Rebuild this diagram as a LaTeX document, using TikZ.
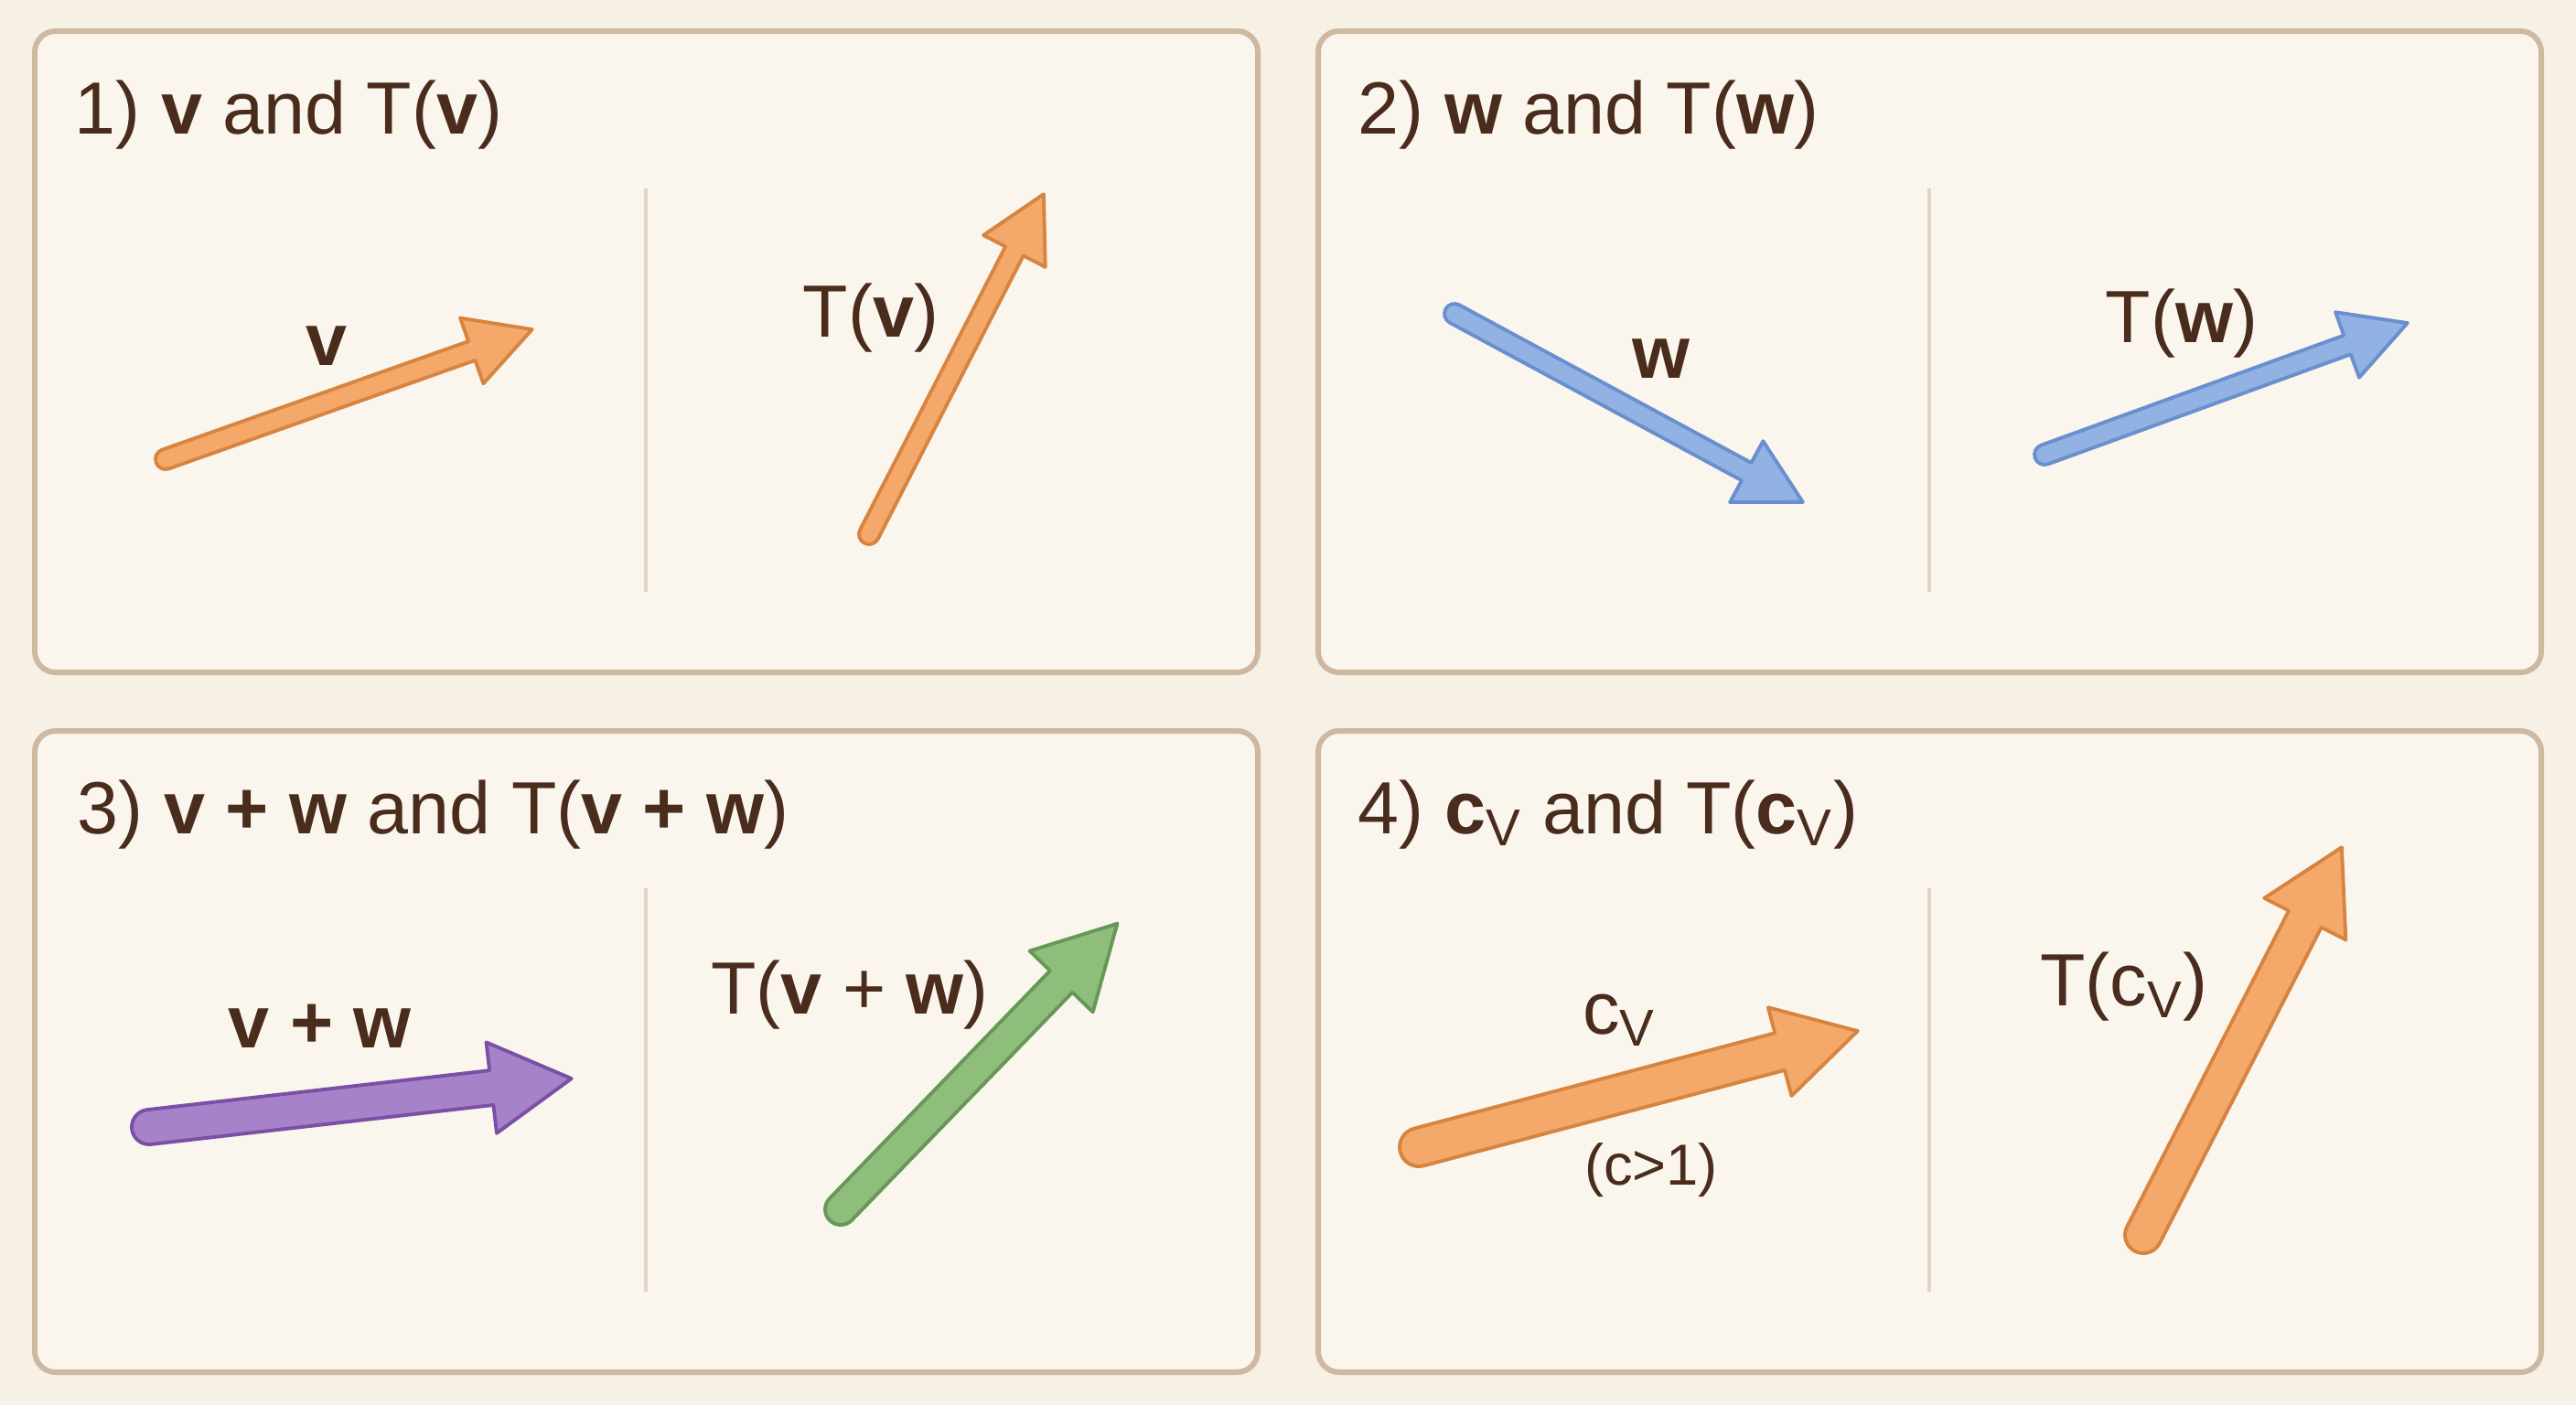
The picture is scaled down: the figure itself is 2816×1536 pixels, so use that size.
\documentclass[tikz,border=0pt]{standalone}
\usepackage{fontspec}
\setmainfont{Liberation Sans}
\usepackage{tikz}

\definecolor{pagebg}{HTML}{F6F0E5}
\definecolor{panelbg}{HTML}{FAF6EE}
\definecolor{frame}{HTML}{CDB8A2}
\definecolor{divline}{HTML}{E2D4C4}
\definecolor{ink}{HTML}{4A2C1C}
\definecolor{orangefill}{HTML}{F4A96A}
\definecolor{orangeedge}{HTML}{D6843F}
\definecolor{bluefill}{HTML}{92B2E4}
\definecolor{blueedge}{HTML}{6A8FCE}
\definecolor{purplefill}{HTML}{A682C8}
\definecolor{purpleedge}{HTML}{7A50A6}
\definecolor{greenfill}{HTML}{8FBE7C}
\definecolor{greenedge}{HTML}{669955}

\tikzset{
  panel/.style={draw=frame, line width=1.7pt, fill=panelbg, rounded corners=6.5pt},
  divider/.style={draw=divline, line width=1.2pt},
  title/.style={text=ink, font=\fontsize{23}{27}\selectfont, inner sep=0pt, anchor=base west},
  veclabel/.style={text=ink, font=\fontsize{23}{27}\selectfont, inner sep=0pt, anchor=base},
  note/.style={veclabel, font=\fontsize{18}{22}\selectfont},
  orangevec/.style={fill=orangefill, draw=orangeedge},
  bluevec/.style={fill=bluefill, draw=blueedge},
  purplevec/.style={fill=purplefill, draw=purpleedge},
  greenvec/.style={fill=greenfill, draw=greenedge}
}

% fat vector: [style]{tail}{tip}{shaft half width}{head length}{head half width}, in px
\newcommand{\vecarrow}[6][]{%
  \pgfpointdiff{\pgfpointanchor{#2}{center}}{\pgfpointanchor{#3}{center}}%
  \pgfgetlastxy{\vecdx}{\vecdy}%
  \pgfmathsetmacro{\vecA}{atan2(\vecdy,\vecdx)}%
  \pgfmathsetmacro{\vecL}{veclen(\vecdx,\vecdy)/0.284528}%
  \begin{scope}[shift={(#2)}, rotate=\vecA]
    \filldraw[line width=1.1pt, line join=round, #1]
      (0,-#4) -- (\vecL-#5,-#4) -- (\vecL-#5,-#6) -- (\vecL,0) -- (\vecL-#5,#6)
      -- (\vecL-#5,#4) -- (0,#4) arc[start angle=90, end angle=270, radius=#4] -- cycle;
  \end{scope}}

\begin{document}
\begin{tikzpicture}[x=0.01cm, y=-0.01cm]
\fill[pagebg] (0,0) rectangle (2816,1536);

% panels and dividers
\foreach \dx/\dy in {0/0, 1403/0, 0/765, 1403/765} {
  \draw[panel] (38+\dx,34+\dy) rectangle (1375+\dx,735+\dy);
  \draw[divider] (706+\dx,206+\dy) -- (706+\dx,647+\dy);
}

% titles
\node[title] (t1) at (81,146) {1) \textbf{v} and T(\textbf{v})};
\node[title] (t2) at (1484,146) {2) \textbf{w} and T(\textbf{w})};
\node[title] (t3) at (84,911) {3) \textbf{v + w} and T(\textbf{v + w})};
\node[title] (t4) at (1484,911) {4) \textbf{c}\textsubscript{V} and T(\textbf{c}\textsubscript{V})};

% vector end points
\coordinate (vtail) at (181,502);    \coordinate (vtip) at (582,360);
\coordinate (tvtail) at (950,584);   \coordinate (tvtip) at (1141,212);
\coordinate (wtail) at (1590,343);   \coordinate (wtip) at (1971,549);
\coordinate (twtail) at (2235,497);  \coordinate (twtip) at (2632,353);
\coordinate (vwtail) at (163,1232);  \coordinate (vwtip) at (625,1179);
\coordinate (tvwtail) at (919,1322); \coordinate (tvwtip) at (1222,1009);
\coordinate (cvtail) at (1551,1254); \coordinate (cvtip) at (2031,1127);
\coordinate (tcvtail) at (2343,1350);\coordinate (tcvtip) at (2560,926);

\vecarrow[orangevec]{vtail}{vtip}{11}{70}{38}
\vecarrow[orangevec]{tvtail}{tvtip}{11}{70}{38}
\vecarrow[bluevec]{wtail}{wtip}{11}{70}{38}
\vecarrow[bluevec]{twtail}{twtip}{11}{70}{38}
\vecarrow[purplevec]{vwtail}{vwtip}{19}{88}{50}
\vecarrow[greenvec]{tvwtail}{tvwtip}{17}{88}{48}
\vecarrow[orangevec]{cvtail}{cvtip}{21}{88}{50}
\vecarrow[orangevec]{tcvtail}{tcvtip}{20}{88}{50}

% labels
\node[veclabel] (lv) at (357,399) {\textbf{v}};
\node[veclabel] (ltv) at (952,368) {T(\textbf{v})};
\node[veclabel] (lw) at (1816,413) {\textbf{w}};
\node[veclabel] (ltw) at (2385,374) {T(\textbf{w})};
\node[veclabel] (lvw) at (350,1145) {\textbf{v + w}};
\node[veclabel] (ltvw) at (929,1108) {T(\textbf{v} + \textbf{w})};
\node[veclabel] (lcv) at (1770,1130) {c\textsubscript{V}};
\node[note] (lc) at (1805,1295) {(c>1)};
\node[veclabel] (ltcv) at (2322,1099) {T(c\textsubscript{V})};
\end{tikzpicture}
\end{document}
